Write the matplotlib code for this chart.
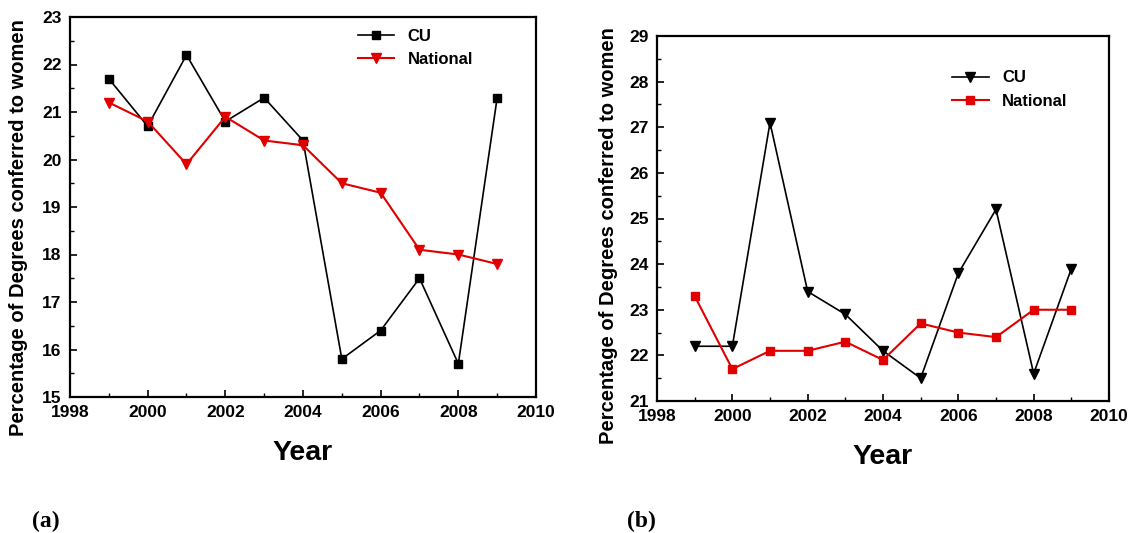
import numpy as np
import matplotlib.pyplot as plt

years = [1999, 2000, 2001, 2002, 2003, 2004, 2005, 2006, 2007, 2008, 2009]
cu_a = [21.7, 20.7, 22.2, 20.8, 21.3, 20.4, 15.8, 16.4, 17.5, 15.7, 21.3]
nat_a = [21.2, 20.8, 19.9, 20.9, 20.4, 20.3, 19.5, 19.3, 18.1, 18.0, 17.8]
cu_b = [22.2, 22.2, 27.1, 23.4, 22.9, 22.1, 21.5, 23.8, 25.2, 21.6, 23.9]
nat_b = [23.3, 21.7, 22.1, 22.1, 22.3, 21.9, 22.7, 22.5, 22.4, 23.0, 23.0]

plt.rcParams['font.family'] = ['Liberation Sans', 'DejaVu Sans']
plt.rcParams['font.weight'] = 'bold'

fig = plt.figure(figsize=(11.31, 5.33), dpi=100)
W, H = 1131, 533
ax1 = fig.add_axes([70 / W, 1 - 397 / H, 466 / W, 380 / H])
ax2 = fig.add_axes([657 / W, 1 - 401 / H, 452 / W, 365 / H])


def style(ax, ylim, yticks, anchor, ylab_xy):
 ax.set_xlim(1998, 2010)
 ax.set_ylim(*ylim)
 ax.set_xticks(range(1998, 2011, 2))
 ax.set_xticks(range(1999, 2010, 2), minor=True)
 ax.set_yticks(yticks)
 ax.set_yticks(np.arange(ylim[0] + 0.5, ylim[1], 1), minor=True)
 ax.tick_params(direction='in', which='major', length=5, width=1.2, labelsize=12.5)
 ax.tick_params(direction='in', which='minor', length=3, width=1.0)
 ax.tick_params(axis='y', pad=6)
 ax.tick_params(axis='x', pad=6)
 for lab in ax.get_xticklabels() + ax.get_yticklabels():
  lab.set_fontweight('bold')
 for s in ax.spines.values():
  s.set_linewidth(1.6)
 ax.set_xlabel('Year', fontsize=20.5, fontweight='bold', labelpad=14)
 ax.set_ylabel('Percentage of Degrees conferred to women', fontsize=14.5, fontweight='bold')
 ax.yaxis.set_label_coords(*ylab_xy)
 ax.legend(loc='upper right', frameon=False, handlelength=2.2,
           bbox_to_anchor=anchor, prop={'weight': 'bold', 'size': 12})


ax1.plot(years, cu_a, color='black', marker='s', markersize=6, lw=1.2, label='CU')
ax1.plot(years, nat_a, color='#e00000', marker='v', markersize=7, lw=1.5, label='National')
style(ax1, (15, 23), range(15, 24), (0.897, 1.008), (-0.09, 0.445))

ax2.plot(years, cu_b, color='black', marker='v', markersize=7, lw=1.2, label='CU')
ax2.plot(years, nat_b, color='#e00000', marker='s', markersize=6, lw=1.5, label='National')
style(ax2, (21, 29), range(21, 30), (0.941, 0.947), (-0.087, 0.452))

fig.text(32 / W, 1 - 521 / H, '(a)', family='Liberation Serif', fontsize=17, fontweight='bold', va='center')
fig.text(627 / W, 1 - 521 / H, '(b)', family='Liberation Serif', fontsize=17, fontweight='bold', va='center')

fig.savefig('out.png', dpi=100)
